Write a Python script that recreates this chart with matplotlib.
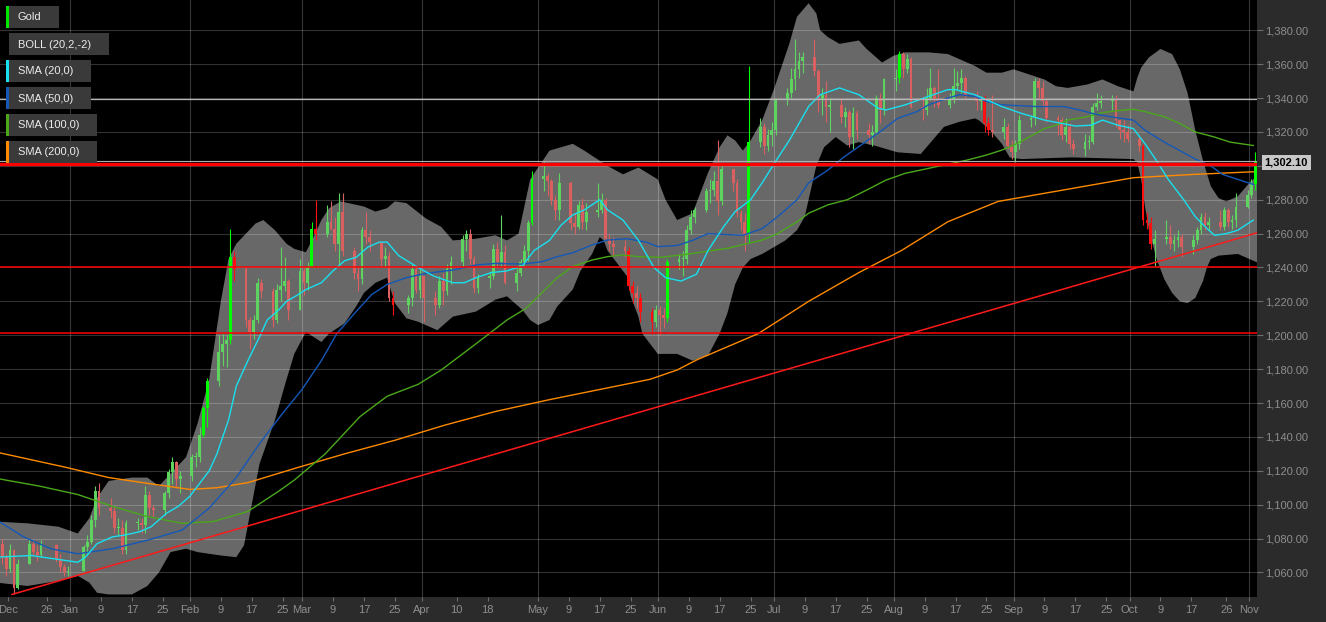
import matplotlib
matplotlib.use("Agg")
import matplotlib.pyplot as plt
import matplotlib.dates as mdates
from matplotlib.patches import Rectangle
import numpy as np
import pandas as pd

plt.rcParams['font.family'] = ['Liberation Sans', 'DejaVu Sans']

W, H = 1326, 622

# ---------------- daily candles (open = previous close) ----------------
first_open = 1077

dec_days = [14, 15, 16, 17, 18, 21, 22, 23, 24, 28, 29, 30, 31]
dec_close = [1069, 1062, 1073, 1051, 1065, 1077, 1072, 1070, 1076, 1068, 1063, 1060, 1061]
dec_high = [1080, 1071, 1077, 1074, 1068, 1080, 1079, 1076, 1079, 1077, 1071, 1065, 1064]
dec_low = [1065, 1058, 1060, 1047, 1050, 1065, 1070, 1067, 1069, 1066, 1060, 1058, 1058]

jan_days = [4, 5, 6, 7, 8, 11, 12, 13, 14, 15, 18, 19, 20, 21, 22, 25, 26, 27, 28, 29]
jan_close = [1075, 1078, 1091, 1108, 1098, 1096, 1086, 1086, 1073, 1089, 1089, 1088, 1106, 1098, 1097, 1107, 1119, 1125, 1115, 1117]
jan_high = [1076, 1082, 1094, 1111, 1113, 1104, 1099, 1092, 1091, 1091, 1092, 1092, 1111, 1108, 1100, 1108, 1121, 1128, 1126, 1120]
jan_low = [1061, 1070, 1077, 1087, 1094, 1092, 1083, 1082, 1071, 1071, 1085, 1083, 1083, 1094, 1093, 1094, 1104, 1112, 1110, 1107]

feb_days = [1, 2, 3, 4, 5, 8, 9, 10, 11, 12, 15, 16, 17, 18, 19, 22, 23, 24, 25, 26, 29]
feb_close = [1128, 1128, 1141, 1157, 1173, 1190, 1195, 1197, 1246, 1239, 1209, 1202, 1209, 1231, 1226, 1209, 1227, 1229, 1232, 1215, 1238]
feb_high = [1130, 1131, 1146, 1158, 1175, 1200, 1201, 1200, 1263, 1250, 1240, 1211, 1212, 1234, 1233, 1228, 1230, 1252, 1246, 1233, 1245]
feb_low = [1114, 1122, 1125, 1140, 1146, 1170, 1182, 1181, 1195, 1232, 1205, 1192, 1198, 1207, 1222, 1205, 1207, 1220, 1226, 1209, 1215]

mar_days = [1, 2, 3, 4, 7, 8, 9, 10, 11, 14, 15, 16, 17, 18, 21, 22, 23, 24, 28, 29, 30, 31]
mar_close = [1231, 1240, 1263, 1260, 1267, 1263, 1254, 1273, 1250, 1237, 1233, 1262, 1258, 1255, 1245, 1247, 1222, 1218, 1222, 1239, 1227, 1235]
mar_high = [1241, 1243, 1267, 1280, 1277, 1279, 1270, 1284, 1284, 1252, 1240, 1264, 1273, 1262, 1250, 1252, 1249, 1226, 1224, 1242, 1241, 1239]
mar_low = [1224, 1227, 1240, 1256, 1258, 1262, 1250, 1240, 1247, 1233, 1226, 1230, 1254, 1250, 1241, 1240, 1220, 1212, 1213, 1217, 1225, 1222]

apr_days = [1, 4, 5, 6, 7, 8, 11, 12, 13, 14, 15, 18, 19, 20, 21, 22, 25, 26, 27, 28, 29]
apr_close = [1222, 1218, 1232, 1226, 1239, 1243, 1257, 1260, 1245, 1228, 1234, 1235, 1251, 1243, 1249, 1231, 1237, 1243, 1250, 1266, 1292]
apr_high = [1235, 1226, 1235, 1237, 1242, 1247, 1259, 1262, 1263, 1247, 1236, 1238, 1254, 1255, 1271, 1253, 1240, 1245, 1253, 1268, 1297]
apr_low = [1208, 1212, 1216, 1218, 1224, 1230, 1240, 1250, 1240, 1225, 1225, 1228, 1233, 1240, 1241, 1230, 1226, 1235, 1240, 1244, 1265]

may_days = [2, 3, 4, 5, 6, 9, 10, 11, 12, 13, 16, 17, 18, 19, 20, 23, 24, 25, 26, 27, 30, 31]
may_close = [1294, 1291, 1280, 1274, 1290, 1266, 1264, 1277, 1267, 1273, 1274, 1280, 1257, 1254, 1252, 1250, 1229, 1225, 1222, 1214, 1208, 1215]
may_high = [1303, 1296, 1292, 1283, 1296, 1291, 1272, 1279, 1281, 1278, 1290, 1284, 1281, 1260, 1258, 1256, 1252, 1232, 1229, 1225, 1216, 1218]
may_low = [1285, 1282, 1277, 1268, 1268, 1262, 1260, 1263, 1263, 1262, 1270, 1272, 1256, 1250, 1247, 1246, 1227, 1219, 1216, 1208, 1201, 1205]

jun_days = [1, 2, 3, 6, 7, 8, 9, 10, 13, 14, 15, 16, 17, 20, 21, 22, 23, 24, 27, 28, 29, 30]
jun_close = [1212, 1210, 1243, 1245, 1245, 1262, 1270, 1274, 1285, 1286, 1291, 1279, 1298, 1290, 1272, 1267, 1260, 1314, 1323, 1312, 1318, 1321]
jun_high = [1217, 1216, 1245, 1248, 1250, 1265, 1274, 1276, 1287, 1292, 1297, 1315, 1300, 1297, 1292, 1274, 1272, 1359, 1328, 1325, 1322, 1326]
jun_low = [1200, 1204, 1208, 1239, 1235, 1242, 1260, 1266, 1273, 1278, 1282, 1271, 1277, 1285, 1270, 1262, 1250, 1255, 1311, 1307, 1309, 1312]

jul_days = [1, 4, 5, 6, 7, 8, 11, 12, 13, 14, 15, 18, 19, 20, 21, 22, 25, 26, 27, 28, 29]
jul_close = [1339, 1343, 1351, 1357, 1362, 1364, 1356, 1339, 1342, 1335, 1336, 1329, 1332, 1317, 1331, 1321, 1318, 1320, 1340, 1333, 1351]
jul_high = [1340, 1346, 1358, 1375, 1367, 1367, 1375, 1357, 1346, 1350, 1340, 1340, 1335, 1333, 1335, 1333, 1325, 1324, 1342, 1343, 1352]
jul_low = [1318, 1336, 1340, 1345, 1352, 1355, 1353, 1332, 1330, 1326, 1320, 1325, 1323, 1311, 1310, 1316, 1313, 1312, 1318, 1325, 1330]

aug_days = [1, 2, 3, 4, 5, 8, 9, 10, 11, 12, 15, 16, 17, 18, 19, 22, 23, 24, 25, 26, 29, 30, 31]
aug_close = [1352, 1366, 1357, 1363, 1335, 1333, 1340, 1346, 1339, 1336, 1339, 1347, 1349, 1352, 1342, 1338, 1339, 1325, 1321, 1320, 1323, 1312, 1308]
aug_high = [1357, 1368, 1367, 1366, 1364, 1341, 1346, 1358, 1347, 1357, 1343, 1358, 1356, 1357, 1353, 1344, 1341, 1342, 1329, 1342, 1328, 1325, 1315]
aug_low = [1344, 1349, 1352, 1355, 1334, 1327, 1330, 1339, 1335, 1334, 1334, 1337, 1345, 1343, 1340, 1333, 1333, 1320, 1318, 1317, 1316, 1310, 1304]

sep_days = [1, 2, 5, 6, 7, 8, 9, 12, 13, 14, 15, 16, 19, 20, 21, 22, 23, 26, 27, 28, 29, 30]
sep_close = [1313, 1327, 1328, 1350, 1346, 1338, 1328, 1327, 1318, 1323, 1313, 1310, 1314, 1314, 1335, 1337, 1338, 1339, 1327, 1321, 1320, 1316]
sep_high = [1315, 1330, 1330, 1352, 1352, 1350, 1340, 1330, 1329, 1328, 1325, 1316, 1319, 1318, 1337, 1343, 1342, 1342, 1342, 1327, 1327, 1324]
sep_low = [1302, 1310, 1323, 1324, 1340, 1335, 1326, 1318, 1315, 1314, 1310, 1307, 1306, 1310, 1313, 1333, 1334, 1333, 1323, 1316, 1314, 1314]

oct_days = [3, 4, 5, 6, 7, 10, 11, 12, 13, 14, 17, 18, 19, 20, 21, 24, 25, 26, 27, 28, 31]
oct_close = [1312, 1268, 1266, 1254, 1257, 1258, 1254, 1256, 1258, 1252, 1256, 1262, 1270, 1265, 1267, 1264, 1274, 1267, 1268, 1276, 1283]
oct_high = [1317, 1313, 1273, 1270, 1262, 1268, 1265, 1259, 1262, 1260, 1259, 1264, 1272, 1273, 1270, 1274, 1276, 1275, 1271, 1284, 1286]
oct_low = [1308, 1265, 1263, 1251, 1241, 1254, 1251, 1250, 1252, 1246, 1248, 1254, 1260, 1262, 1262, 1262, 1262, 1264, 1263, 1264, 1275]

nov_days = [1, 2]
nov_close = [1289, 1302.1]
nov_high = [1292, 1308]
nov_low = [1281, 1286]

# candles that close outside the bands are drawn in the bright colours
bright_days = ["2016-02-04", "2016-02-05", "2016-02-11", "2016-02-12", "2016-03-03",
               "2016-03-04", "2016-03-24", "2016-04-29", "2016-05-24", "2016-05-25",
               "2016-05-27", "2016-05-30", "2016-06-03", "2016-06-24", "2016-08-02",
               "2016-08-24", "2016-08-25", "2016-10-04", "2016-10-05", "2016-10-06",
               "2016-11-02"]

# ---------------- indicator lines ----------------
boll_up_dates = ["2015-12-13", "2015-12-21", "2015-12-29", "2016-01-03", "2016-01-06", "2016-01-08",
                 "2016-01-11", "2016-01-17", "2016-01-21", "2016-01-24", "2016-01-31", "2016-02-03",
                 "2016-02-06", "2016-02-09", "2016-02-11", "2016-02-13", "2016-02-18", "2016-02-20",
                 "2016-02-23", "2016-02-26", "2016-02-28", "2016-03-02", "2016-03-04", "2016-03-06",
                 "2016-03-08", "2016-03-11", "2016-03-15", "2016-03-17", "2016-03-20", "2016-03-23",
                 "2016-03-25", "2016-03-28", "2016-04-02", "2016-04-06", "2016-04-09", "2016-04-15",
                 "2016-04-20", "2016-04-23", "2016-04-26", "2016-04-29", "2016-05-04", "2016-05-10",
                 "2016-05-13", "2016-05-19", "2016-05-23", "2016-05-27", "2016-06-01", "2016-06-03",
                 "2016-06-06", "2016-06-10", "2016-06-14", "2016-06-17", "2016-06-19", "2016-06-21",
                 "2016-06-23", "2016-06-25", "2016-06-28", "2016-07-01", "2016-07-05", "2016-07-07",
                 "2016-07-10", "2016-07-12", "2016-07-13", "2016-07-15", "2016-07-18", "2016-07-23",
                 "2016-07-25", "2016-07-29", "2016-08-01", "2016-08-04", "2016-08-10", "2016-08-15",
                 "2016-08-19", "2016-08-22", "2016-08-25", "2016-08-29", "2016-09-01", "2016-09-05",
                 "2016-09-09", "2016-09-12", "2016-09-15", "2016-09-20", "2016-09-24", "2016-09-28",
                 "2016-10-02", "2016-10-03", "2016-10-04", "2016-10-06", "2016-10-09", "2016-10-12",
                 "2016-10-14", "2016-10-16", "2016-10-18", "2016-10-20", "2016-10-22", "2016-10-24",
                 "2016-10-26", "2016-10-29", "2016-11-01", "2016-11-03"]
boll_up_vals = [1090, 1089, 1087, 1083, 1092, 1104,
                1114, 1116, 1116, 1111, 1128, 1148,
                1174, 1220, 1245, 1254, 1266, 1268,
                1262, 1254, 1251, 1249, 1258, 1268,
                1275, 1279, 1277, 1276, 1273, 1275,
                1279, 1278, 1269, 1264, 1256, 1257,
                1259, 1256, 1260, 1292, 1309, 1313,
                1309, 1300, 1295, 1299, 1292, 1280,
                1268, 1272, 1296, 1311, 1318, 1315,
                1309, 1315, 1327, 1345, 1372, 1388,
                1396, 1390, 1380, 1376, 1372, 1374,
                1369, 1361, 1365, 1367, 1367, 1366,
                1362, 1359, 1355, 1355, 1357, 1354,
                1351, 1347, 1346, 1348, 1351, 1347,
                1344, 1352, 1358, 1364, 1369, 1366,
                1357, 1343, 1321, 1303, 1288, 1281,
                1279, 1282, 1290, 1294]

boll_dn_dates = ["2015-12-13", "2015-12-21", "2015-12-29", "2016-01-03", "2016-01-06", "2016-01-08",
                 "2016-01-11", "2016-01-17", "2016-01-21", "2016-01-24", "2016-01-27", "2016-01-31",
                 "2016-02-03", "2016-02-06", "2016-02-09", "2016-02-13", "2016-02-15", "2016-02-17",
                 "2016-02-19", "2016-02-23", "2016-02-26", "2016-02-28", "2016-03-02", "2016-03-04",
                 "2016-03-06", "2016-03-08", "2016-03-12", "2016-03-15", "2016-03-17", "2016-03-20",
                 "2016-03-23", "2016-03-25", "2016-03-28", "2016-03-31", "2016-04-05", "2016-04-09",
                 "2016-04-15", "2016-04-20", "2016-04-23", "2016-04-27", "2016-04-29", "2016-05-01",
                 "2016-05-04", "2016-05-06", "2016-05-10", "2016-05-12", "2016-05-15", "2016-05-17",
                 "2016-05-18", "2016-05-19", "2016-05-21", "2016-05-24", "2016-05-25", "2016-05-27",
                 "2016-05-28", "2016-05-30", "2016-06-01", "2016-06-06", "2016-06-10", "2016-06-14",
                 "2016-06-17", "2016-06-19", "2016-06-21", "2016-06-23", "2016-06-25", "2016-06-28",
                 "2016-07-01", "2016-07-04", "2016-07-07", "2016-07-09", "2016-07-10", "2016-07-12",
                 "2016-07-14", "2016-07-17", "2016-07-20", "2016-07-23", "2016-07-27", "2016-07-30",
                 "2016-08-02", "2016-08-08", "2016-08-11", "2016-08-14", "2016-08-18", "2016-08-22",
                 "2016-08-23", "2016-08-26", "2016-08-29", "2016-08-31", "2016-09-03", "2016-09-16",
                 "2016-10-02", "2016-10-03", "2016-10-04", "2016-10-05", "2016-10-06", "2016-10-08",
                 "2016-10-10", "2016-10-12", "2016-10-14", "2016-10-16", "2016-10-18", "2016-10-20",
                 "2016-10-21", "2016-10-22", "2016-10-24", "2016-10-29", "2016-11-01", "2016-11-03"]
boll_dn_vals = [1054, 1052, 1055, 1058, 1054, 1048,
                1047, 1047, 1052, 1060, 1072, 1074,
                1072, 1071, 1070, 1069, 1076, 1100,
                1124, 1150, 1174, 1189, 1202, 1199,
                1196, 1201, 1207, 1217, 1225, 1231,
                1234, 1219, 1210, 1208, 1203, 1211,
                1214, 1221, 1223, 1215, 1209, 1206,
                1209, 1217, 1227, 1238, 1248, 1258,
                1256, 1250, 1244, 1235, 1223, 1211,
                1201, 1195, 1189, 1189, 1185, 1188,
                1201, 1213, 1230, 1240, 1245, 1248,
                1252, 1256, 1262, 1270, 1280, 1300,
                1311, 1317, 1312, 1314, 1312, 1310,
                1308, 1307, 1315, 1323, 1326, 1328,
                1327, 1321, 1313, 1305, 1304, 1305,
                1304, 1302, 1292, 1276, 1262, 1245,
                1233, 1225, 1220, 1219, 1222, 1232,
                1240, 1245, 1247, 1248, 1245, 1243]

sma20_dates = ["2015-12-13", "2015-12-22", "2015-12-31", "2016-01-03", "2016-01-05", "2016-01-08",
               "2016-01-12", "2016-01-15", "2016-01-19", "2016-01-22", "2016-01-26", "2016-01-29",
               "2016-02-01", "2016-02-03", "2016-02-06", "2016-02-08", "2016-02-11", "2016-02-13",
               "2016-02-16", "2016-02-19", "2016-02-21", "2016-02-24", "2016-02-26", "2016-02-29",
               "2016-03-02", "2016-03-06", "2016-03-09", "2016-03-12", "2016-03-15", "2016-03-18",
               "2016-03-21", "2016-03-23", "2016-03-26", "2016-03-31", "2016-04-04", "2016-04-09",
               "2016-04-12", "2016-04-15", "2016-04-19", "2016-04-23", "2016-04-27", "2016-04-30",
               "2016-05-04", "2016-05-07", "2016-05-10", "2016-05-13", "2016-05-17", "2016-05-19",
               "2016-05-23", "2016-05-27", "2016-05-31", "2016-06-03", "2016-06-07", "2016-06-11",
               "2016-06-14", "2016-06-18", "2016-06-21", "2016-06-25", "2016-06-28", "2016-07-01",
               "2016-07-05", "2016-07-08", "2016-07-10", "2016-07-13", "2016-07-18", "2016-07-23",
               "2016-07-28", "2016-07-30", "2016-08-04", "2016-08-10", "2016-08-15", "2016-08-17",
               "2016-08-22", "2016-08-25", "2016-08-29", "2016-09-03", "2016-09-09", "2016-09-17",
               "2016-09-21", "2016-09-24", "2016-09-28", "2016-10-02", "2016-10-05", "2016-10-08",
               "2016-10-11", "2016-10-15", "2016-10-18", "2016-10-21", "2016-10-23", "2016-10-26",
               "2016-10-29", "2016-11-02"]
sma20_vals = [1069, 1070, 1067, 1066, 1069, 1077,
              1081, 1082, 1084, 1087, 1095, 1099,
              1105, 1111, 1120, 1130, 1150, 1170,
              1185, 1199, 1209, 1215, 1220, 1224,
              1227, 1231, 1238, 1244, 1246, 1252,
              1255, 1255, 1247, 1240, 1235, 1231,
              1231, 1234, 1237, 1238, 1241, 1250,
              1256, 1265, 1271, 1274, 1280, 1274,
              1268, 1256, 1240, 1234, 1232, 1236,
              1250, 1264, 1273, 1280, 1290, 1301,
              1315, 1327, 1335, 1342, 1346, 1342,
              1334, 1333, 1336, 1341, 1345, 1345,
              1342, 1339, 1335, 1331, 1327, 1323.5,
              1324, 1327, 1324, 1322, 1313, 1303,
              1292, 1280, 1270, 1263, 1259, 1260,
              1262, 1268]

sma50_dates = ["2015-12-13", "2015-12-20", "2015-12-27", "2016-01-03", "2016-01-12", "2016-01-21",
               "2016-01-30", "2016-02-06", "2016-02-13", "2016-02-19", "2016-02-25", "2016-03-01",
               "2016-03-06", "2016-03-10", "2016-03-15", "2016-03-19", "2016-03-23", "2016-03-28",
               "2016-04-02", "2016-04-09", "2016-04-15", "2016-04-20", "2016-04-27", "2016-05-02",
               "2016-05-06", "2016-05-10", "2016-05-15", "2016-05-19", "2016-05-24", "2016-05-29",
               "2016-06-01", "2016-06-06", "2016-06-10", "2016-06-14", "2016-06-23", "2016-06-28",
               "2016-07-02", "2016-07-07", "2016-07-10", "2016-07-15", "2016-07-19", "2016-07-24",
               "2016-07-29", "2016-08-02", "2016-08-07", "2016-08-10", "2016-08-15", "2016-08-18",
               "2016-08-22", "2016-08-25", "2016-08-29", "2016-09-07", "2016-09-14", "2016-09-18",
               "2016-09-22", "2016-09-26", "2016-10-02", "2016-10-05", "2016-10-10", "2016-10-14",
               "2016-10-18", "2016-10-22", "2016-10-25", "2016-10-29", "2016-11-02"]
sma50_vals = [1091, 1081, 1074, 1071, 1074, 1079,
              1085, 1098, 1116, 1136, 1154, 1168,
              1185, 1201, 1214, 1224, 1230, 1234,
              1236.5, 1238.5, 1241.5, 1242.4, 1242, 1243.4,
              1246.4, 1248.7, 1253.3, 1256.2, 1257, 1255,
              1252.3, 1253, 1256, 1260, 1259, 1263,
              1270, 1280, 1290, 1297.5, 1305, 1313,
              1321, 1328, 1332, 1336, 1340, 1342,
              1341, 1338, 1336, 1335, 1335, 1333,
              1330.6, 1329, 1327, 1321, 1314, 1309,
              1304, 1300, 1295, 1292, 1289]

sma100_dates = ["2015-12-13", "2015-12-24", "2016-01-03", "2016-01-12", "2016-01-21", "2016-01-30",
                "2016-02-07", "2016-02-16", "2016-02-24", "2016-02-28", "2016-03-07", "2016-03-16",
                "2016-03-23", "2016-03-31", "2016-04-06", "2016-04-15", "2016-04-23", "2016-04-28",
                "2016-05-02", "2016-05-06", "2016-05-10", "2016-05-15", "2016-05-19", "2016-05-23",
                "2016-05-27", "2016-06-02", "2016-06-10", "2016-06-19", "2016-06-28", "2016-07-02",
                "2016-07-07", "2016-07-10", "2016-07-15", "2016-07-20", "2016-07-25", "2016-07-30",
                "2016-08-04", "2016-08-10", "2016-08-15", "2016-08-20", "2016-08-25", "2016-08-29",
                "2016-09-02", "2016-09-06", "2016-09-09", "2016-09-12", "2016-09-15", "2016-09-20",
                "2016-09-24", "2016-09-28", "2016-10-02", "2016-10-05", "2016-10-10", "2016-10-14",
                "2016-10-18", "2016-10-23", "2016-10-27", "2016-11-02"]
sma100_vals = [1115.5, 1111, 1106, 1099, 1093, 1089,
               1090, 1096, 1108, 1114.5, 1130, 1152,
               1164, 1171, 1179.5, 1195, 1209, 1216,
               1225, 1234, 1240.5, 1244.4, 1246.4, 1247.4,
               1246.4, 1246, 1248.3, 1251.3, 1256.2, 1260,
               1267, 1272, 1277, 1280, 1285.7, 1291.6,
               1295.6, 1298.5, 1301, 1303.4, 1306.4, 1309.3,
               1313.3, 1318.2, 1322, 1324, 1327, 1329,
               1331.4, 1332.6, 1333.4, 1332, 1329, 1325,
               1320, 1317, 1314, 1312]

sma200_dates = ["2015-12-13", "2015-12-31", "2016-01-11", "2016-01-21", "2016-02-01", "2016-02-08",
                "2016-02-16", "2016-02-29", "2016-03-12", "2016-03-25", "2016-04-07", "2016-04-20",
                "2016-05-04", "2016-05-17", "2016-05-30", "2016-06-06", "2016-06-11", "2016-06-27",
                "2016-07-10", "2016-07-23", "2016-08-03", "2016-08-15", "2016-08-28", "2016-09-07",
                "2016-09-22", "2016-10-02", "2016-10-18", "2016-11-02"]
sma200_vals = [1131, 1122, 1116, 1112.6, 1109, 1110,
               1113, 1122, 1130, 1138, 1147, 1155,
               1162, 1168, 1174, 1179.5, 1185.4, 1201,
               1220, 1237, 1250, 1267, 1279, 1283,
               1289, 1293, 1295, 1296.5]

trend_dates = ["2015-12-17", "2016-11-03"]
trend_vals = [1047, 1260.5]

level_thick = 1301.0
level_lines = [1240.3, 1201.2]
resistance_gray = 1339.5
last_price = 1302.10

y_ticks = list(range(1060, 1381, 20))

tick_dates = ["2015-12-16", "2015-12-26", "2016-01-01", "2016-01-09", "2016-01-17", "2016-01-25",
              "2016-02-01", "2016-02-09", "2016-02-17", "2016-02-25", "2016-03-01", "2016-03-09",
              "2016-03-17", "2016-03-25", "2016-04-01", "2016-04-10", "2016-04-18", "2016-05-01",
              "2016-05-09", "2016-05-17", "2016-05-25", "2016-06-01", "2016-06-09", "2016-06-17",
              "2016-06-25", "2016-07-01", "2016-07-09", "2016-07-17", "2016-07-25", "2016-08-01",
              "2016-08-09", "2016-08-17", "2016-08-25", "2016-09-01", "2016-09-09", "2016-09-17",
              "2016-09-25", "2016-10-01", "2016-10-09", "2016-10-17", "2016-10-26", "2016-11-01"]
tick_labels = ["Dec", "26", "Jan", "9", "17", "25", "Feb", "9", "17", "25", "Mar", "9",
               "17", "25", "Apr", "10", "18", "May", "9", "17", "25", "Jun", "9", "17",
               "25", "Jul", "9", "17", "25", "Aug", "9", "17", "25", "Sep", "9", "17",
               "25", "Oct", "9", "17", "26", "Nov"]
month_lines = ["2016-01-01", "2016-02-01", "2016-03-01", "2016-04-01", "2016-05-01", "2016-06-01",
               "2016-07-01", "2016-08-01", "2016-09-01", "2016-10-01", "2016-11-01"]

legend_labels = ["Gold", "BOLL (20,2,-2)", "SMA (20,0)", "SMA (50,0)", "SMA (100,0)", "SMA (200,0)"]
legend_colors = ["#00e600", None, "#18e0f0", "#1458b8", "#4aa81a", "#ff8a00"]


def to_num(dates):
    return mdates.date2num(pd.to_datetime(dates).to_pydatetime())


# assemble the candles
months = [("2015-12", dec_days, dec_close, dec_high, dec_low),
          ("2016-01", jan_days, jan_close, jan_high, jan_low),
          ("2016-02", feb_days, feb_close, feb_high, feb_low),
          ("2016-03", mar_days, mar_close, mar_high, mar_low),
          ("2016-04", apr_days, apr_close, apr_high, apr_low),
          ("2016-05", may_days, may_close, may_high, may_low),
          ("2016-06", jun_days, jun_close, jun_high, jun_low),
          ("2016-07", jul_days, jul_close, jul_high, jul_low),
          ("2016-08", aug_days, aug_close, aug_high, aug_low),
          ("2016-09", sep_days, sep_close, sep_high, sep_low),
          ("2016-10", oct_days, oct_close, oct_high, oct_low),
          ("2016-11", nov_days, nov_close, nov_high, nov_low)]

day_str, closes, highs, lows = [], [], [], []
for ym, days, c, h, l in months:
    for d, cc, hh, ll in zip(days, c, h, l):
        day_str.append(f"{ym}-{d:02d}")
        closes.append(cc)
        highs.append(hh)
        lows.append(ll)

closes = np.array(closes, dtype=float)
opens = np.concatenate([[first_open], closes[:-1]])
highs = np.maximum(np.array(highs, dtype=float), np.maximum(opens, closes))
lows = np.minimum(np.array(lows, dtype=float), np.minimum(opens, closes))
xc = to_num(day_str) + 0.5

bright = set(bright_days)
cols = []
for ds, o, c in zip(day_str, opens, closes):
    if c >= o:
        cols.append("#00ff00" if ds in bright else "#5fd35f")
    else:
        cols.append("#ff1010" if ds in bright else "#d9605f")

# ---------------- figure ----------------
fig = plt.figure(figsize=(W / 100, H / 100), dpi=100, facecolor="#2b2b2b")
ax = fig.add_axes([0, 25 / H, 1257 / W, 597 / H])
ax.set_facecolor("black")

jan1 = mdates.date2num(pd.Timestamp("2016-01-01").to_pydatetime())
px_day = 3.867
ax.set_xlim(jan1 - 70 / px_day, jan1 + 1187 / px_day)
ax.set_ylim(1045.5, 1397.9)

# bollinger band
ux, lx = to_num(boll_up_dates), to_num(boll_dn_dates)
ax.fill(np.concatenate([ux, lx[::-1]]),
        np.concatenate([boll_up_vals, boll_dn_vals[::-1]]),
        color="#686868", lw=0, zorder=0.5)

# grid
for v in y_ticks:
    ax.axhline(v, color="white", alpha=0.2, lw=0.8, zorder=1)
for d in to_num(month_lines):
    ax.axvline(d, color="white", alpha=0.22, lw=0.8, zorder=1)

# candles
ax.bar(xc, np.maximum(np.abs(closes - opens), 0.6), bottom=np.minimum(opens, closes),
       width=0.72, color=cols, lw=0, zorder=2)
ax.vlines(xc, lows, highs, colors=cols, lw=0.8, zorder=2)

# moving averages
ax.plot(to_num(sma200_dates), sma200_vals, color="#ff8a00", lw=1.0, zorder=3)
ax.plot(to_num(sma100_dates), sma100_vals, color="#4aa81a", lw=1.0, zorder=3)
ax.plot(to_num(sma50_dates), sma50_vals, color="#1458b8", lw=1.0, zorder=3)
ax.plot(to_num(sma20_dates), sma20_vals, color="#18e0f0", lw=1.0, zorder=3)

# trend line and levels
ax.plot(to_num(trend_dates), trend_vals, color="#ff1a1a", lw=1.1, zorder=3.5)
ax.axhline(resistance_gray, color="#b8b8b8", lw=0.9, zorder=3.6)
ax.axhline(last_price + 0.9, color="#b0b0b0", lw=0.8, zorder=3.6)
ax.axhline(level_thick, color="#ff0000", lw=2.4, zorder=4)
for lv in level_lines:
    ax.axhline(lv, color="#ff0000", lw=1.1, zorder=4)

# axes styling
for s in ax.spines.values():
    s.set_visible(False)
ax.yaxis.tick_right()
ax.set_yticks(y_ticks)
ax.set_yticklabels(["" if v == 1300 else f"{v:,.2f}" for v in y_ticks])
ax.tick_params(axis="y", colors="#6e6e6e", labelcolor="#8e8e8e", labelsize=8,
               length=4, width=0.8, pad=2)
ax.set_xticks(to_num(tick_dates))
ax.set_xticklabels(tick_labels)
ax.tick_params(axis="x", colors="#6e6e6e", labelcolor="#8e8e8e", labelsize=8,
               length=3, width=0.8, pad=3)

# last price tag
ax.annotate(f"{last_price:,.2f}", xy=(1.0, last_price), xycoords=ax.get_yaxis_transform(),
            xytext=(5.5, 0), textcoords="offset points", ha="left", va="center",
            fontsize=8, fontweight="bold", color="black",
            bbox=dict(boxstyle="square,pad=0.25", fc="#c8c8c8", ec="none"),
            annotation_clip=False, zorder=20)

# legend boxes (top-left)
box_left = [6, 9, 6, 6, 6, 6]
box_right = [59, 109, 91, 91, 97, 97]
box_top = [6, 33, 60, 87, 114, 141]
for lab, col, x0, x1, y0 in zip(legend_labels, legend_colors, box_left, box_right, box_top):
    fig.add_artist(Rectangle((x0 / W, 1 - (y0 + 22) / H), (x1 - x0) / W, 22 / H,
                             transform=fig.transFigure, fc="#3a3a3a", ec="none", zorder=5))
    if col is not None:
        fig.add_artist(Rectangle((x0 / W, 1 - (y0 + 22) / H), 3 / W, 22 / H,
                                 transform=fig.transFigure, fc=col, ec="none", zorder=6))
    fig.text(18 / W, 1 - (y0 + 11.5) / H, lab, color="#ececec", fontsize=8,
             va="center", ha="left", zorder=7)

fig.savefig("out.png", dpi=100, facecolor=fig.get_facecolor())
